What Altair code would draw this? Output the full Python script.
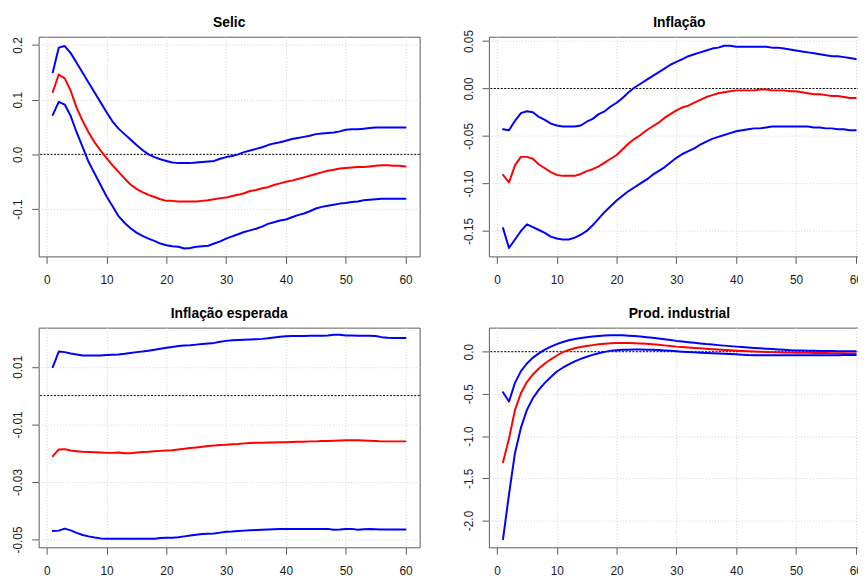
import altair as alt
import pandas as pd

horizons = list(range(1, 61))

selic_upper = [0.150, 0.195, 0.198, 0.185, 0.167, 0.149, 0.131, 0.113, 0.095, 0.077,
               0.060, 0.047, 0.037, 0.027, 0.017, 0.008, 0.000, -0.005, -0.009, -0.012,
               -0.015, -0.016, -0.016, -0.016, -0.015, -0.014, -0.013, -0.012, -0.008, -0.005,
               -0.003, 0.000, 0.004, 0.007, 0.010, 0.013, 0.017, 0.020, 0.022, 0.025,
               0.028, 0.030, 0.032, 0.034, 0.037, 0.038, 0.039, 0.040, 0.042, 0.045,
               0.046, 0.046, 0.047, 0.048, 0.049, 0.049, 0.049, 0.049, 0.049, 0.049]
selic_mean = [0.114, 0.146, 0.139, 0.116, 0.085, 0.061, 0.040, 0.022, 0.007, -0.007,
              -0.020, -0.032, -0.044, -0.055, -0.063, -0.069, -0.074, -0.078, -0.082, -0.085,
              -0.085, -0.086, -0.086, -0.086, -0.086, -0.085, -0.084, -0.082, -0.080, -0.079,
              -0.076, -0.074, -0.071, -0.067, -0.065, -0.062, -0.060, -0.056, -0.053, -0.050,
              -0.048, -0.045, -0.042, -0.039, -0.036, -0.033, -0.030, -0.028, -0.026, -0.025,
              -0.024, -0.023, -0.023, -0.022, -0.021, -0.020, -0.020, -0.021, -0.021, -0.022]
selic_lower = [0.072, 0.096, 0.091, 0.070, 0.040, 0.013, -0.014, -0.035, -0.056, -0.077,
               -0.095, -0.113, -0.125, -0.135, -0.143, -0.149, -0.154, -0.158, -0.163, -0.166,
               -0.168, -0.169, -0.172, -0.171, -0.169, -0.168, -0.167, -0.163, -0.159, -0.154,
               -0.150, -0.146, -0.142, -0.139, -0.136, -0.132, -0.127, -0.124, -0.121, -0.119,
               -0.115, -0.111, -0.108, -0.104, -0.099, -0.096, -0.094, -0.092, -0.090, -0.089,
               -0.087, -0.086, -0.084, -0.083, -0.082, -0.081, -0.081, -0.081, -0.081, -0.081]

infl_upper = [-0.043, -0.044, -0.034, -0.026, -0.024, -0.025, -0.030, -0.033, -0.037, -0.039,
              -0.040, -0.040, -0.040, -0.039, -0.035, -0.032, -0.027, -0.024, -0.019, -0.015,
              -0.010, -0.004, 0.001, 0.005, 0.009, 0.013, 0.017, 0.021, 0.025, 0.028,
              0.031, 0.034, 0.036, 0.038, 0.040, 0.042, 0.043, 0.045, 0.045, 0.044,
              0.044, 0.044, 0.044, 0.044, 0.044, 0.043, 0.043, 0.042, 0.041, 0.040,
              0.039, 0.038, 0.037, 0.036, 0.035, 0.034, 0.034, 0.033, 0.032, 0.031]
infl_mean = [-0.091, -0.099, -0.081, -0.072, -0.072, -0.074, -0.080, -0.084, -0.088, -0.091,
             -0.092, -0.092, -0.092, -0.090, -0.087, -0.085, -0.082, -0.078, -0.074, -0.070,
             -0.064, -0.058, -0.053, -0.049, -0.044, -0.040, -0.036, -0.031, -0.027, -0.023,
             -0.020, -0.018, -0.015, -0.012, -0.009, -0.007, -0.005, -0.004, -0.003, -0.002,
             -0.002, -0.002, -0.002, -0.001, -0.001, -0.002, -0.002, -0.002, -0.003, -0.003,
             -0.004, -0.005, -0.006, -0.006, -0.007, -0.008, -0.008, -0.009, -0.010, -0.010]
infl_lower = [-0.147, -0.168, -0.159, -0.150, -0.143, -0.146, -0.149, -0.152, -0.156, -0.158,
              -0.159, -0.159, -0.157, -0.154, -0.150, -0.144, -0.137, -0.130, -0.124, -0.118,
              -0.113, -0.108, -0.104, -0.100, -0.096, -0.091, -0.087, -0.083, -0.078, -0.073,
              -0.069, -0.066, -0.063, -0.059, -0.056, -0.053, -0.051, -0.049, -0.047, -0.045,
              -0.044, -0.043, -0.042, -0.042, -0.041, -0.040, -0.040, -0.040, -0.040, -0.040,
              -0.040, -0.040, -0.041, -0.041, -0.042, -0.042, -0.043, -0.043, -0.044, -0.044]

esp_upper = [0.0099, 0.0153, 0.0151, 0.0146, 0.0143, 0.0139, 0.0139, 0.0139, 0.0139, 0.0141,
             0.0142, 0.0143, 0.0145, 0.0148, 0.0151, 0.0153, 0.0156, 0.0159, 0.0163, 0.0166,
             0.0169, 0.0172, 0.0174, 0.0175, 0.0177, 0.0179, 0.0181, 0.0183, 0.0187, 0.0190,
             0.0192, 0.0193, 0.0194, 0.0195, 0.0196, 0.0197, 0.0199, 0.0202, 0.0204, 0.0206,
             0.0207, 0.0207, 0.0207, 0.0208, 0.0208, 0.0208, 0.0209, 0.0211, 0.0211, 0.0209,
             0.0209, 0.0208, 0.0208, 0.0208, 0.0207, 0.0203, 0.0201, 0.0200, 0.0200, 0.0200]
esp_mean = [-0.0210, -0.0187, -0.0186, -0.0191, -0.0193, -0.0195, -0.0196, -0.0197, -0.0198, -0.0199,
            -0.0199, -0.0198, -0.0200, -0.0200, -0.0198, -0.0196, -0.0195, -0.0193, -0.0192, -0.0191,
            -0.0190, -0.0187, -0.0185, -0.0182, -0.0180, -0.0178, -0.0175, -0.0173, -0.0172, -0.0171,
            -0.0169, -0.0168, -0.0166, -0.0165, -0.0164, -0.0164, -0.0163, -0.0163, -0.0162, -0.0162,
            -0.0161, -0.0160, -0.0160, -0.0159, -0.0159, -0.0158, -0.0158, -0.0157, -0.0156, -0.0155,
            -0.0155, -0.0155, -0.0156, -0.0157, -0.0158, -0.0159, -0.0159, -0.0159, -0.0159, -0.0159]
esp_lower = [-0.0470, -0.0469, -0.0462, -0.0468, -0.0477, -0.0484, -0.0489, -0.0493, -0.0496, -0.0497,
             -0.0497, -0.0497, -0.0497, -0.0497, -0.0497, -0.0497, -0.0497, -0.0497, -0.0495, -0.0494,
             -0.0494, -0.0492, -0.0489, -0.0486, -0.0483, -0.0481, -0.0480, -0.0479, -0.0476, -0.0473,
             -0.0472, -0.0470, -0.0469, -0.0468, -0.0467, -0.0466, -0.0465, -0.0464, -0.0463, -0.0463,
             -0.0463, -0.0463, -0.0463, -0.0463, -0.0463, -0.0463, -0.0463, -0.0466, -0.0465, -0.0463,
             -0.0463, -0.0466, -0.0464, -0.0463, -0.0464, -0.0465, -0.0465, -0.0465, -0.0465, -0.0465]

prod_upper = [-0.48, -0.59, -0.37, -0.23, -0.14, -0.07, -0.02, 0.025, 0.06, 0.09,
              0.115, 0.135, 0.15, 0.162, 0.172, 0.18, 0.187, 0.192, 0.195, 0.196,
              0.194, 0.19, 0.186, 0.18, 0.172, 0.165, 0.157, 0.148, 0.138, 0.128,
              0.12, 0.113, 0.106, 0.098, 0.09, 0.084, 0.078, 0.072, 0.066, 0.06,
              0.055, 0.05, 0.045, 0.04, 0.035, 0.031, 0.027, 0.022, 0.018, 0.015,
              0.013, 0.011, 0.01, 0.009, 0.008, 0.007, 0.006, 0.005, 0.004, 0.004]
prod_mean = [-1.31, -1.03, -0.69, -0.49, -0.36, -0.27, -0.20, -0.14, -0.09, -0.045,
             -0.005, 0.02, 0.04, 0.055, 0.068, 0.078, 0.087, 0.094, 0.099, 0.102,
             0.103, 0.102, 0.10, 0.097, 0.093, 0.088, 0.082, 0.075, 0.068, 0.06,
             0.055, 0.05, 0.045, 0.04, 0.035, 0.03, 0.025, 0.02, 0.016, 0.012,
             0.008, 0.005, 0.002, 0.0, -0.003, -0.005, -0.007, -0.009, -0.011, -0.012,
             -0.013, -0.014, -0.015, -0.015, -0.016, -0.017, -0.018, -0.019, -0.02, -0.02]
prod_lower = [-2.22, -1.69, -1.20, -0.90, -0.69, -0.55, -0.45, -0.37, -0.30, -0.235,
              -0.19, -0.15, -0.115, -0.085, -0.06, -0.038, -0.018, -0.002, 0.01, 0.018,
              0.022, 0.024, 0.025, 0.025, 0.024, 0.022, 0.019, 0.015, 0.01, 0.005,
              0.0, -0.004, -0.008, -0.012, -0.016, -0.019, -0.022, -0.025, -0.027, -0.03,
              -0.035, -0.04, -0.042, -0.042, -0.042, -0.042, -0.042, -0.042, -0.042, -0.042,
              -0.042, -0.042, -0.042, -0.042, -0.042, -0.042, -0.042, -0.038, -0.038, -0.038]

x_ticks = [0, 10, 20, 30, 40, 50, 60]

FONT = "Liberation Sans, Arial, Helvetica, sans-serif"
FRAME = "#5a5a5a"
W, H = 385, 222


def r_label(fmt, keep=None):
    core = f"(datum.value < 0 ? '-' + format(-datum.value, '{fmt}') : format(datum.value, '{fmt}'))"
    if keep is None:
        return core
    arr = "[" + ",".join(str(k) for k in keep) + "]"
    return f"indexof({arr}, round(datum.value * 100)) >= 0 ? {core} : ''"


def panel(title, lower, mean, upper, ydomain, yticks, label_expr):
    df = pd.DataFrame({
        "h": horizons * 3,
        "v": upper + mean + lower,
        "s": ["upper"] * 60 + ["mean"] * 60 + ["lower"] * 60,
    })
    xenc = alt.X("h:Q", scale=alt.Scale(domain=[-1.36, 62.36], nice=False, zero=False),
                 axis=alt.Axis(values=x_ticks, title=None, format="d", labelBaseline="alphabetic",
                               labelPadding=20, labelAngle=0, labelAlign="center"))
    yenc = alt.Y("v:Q", scale=alt.Scale(domain=ydomain, nice=False, zero=False),
                 axis=alt.Axis(values=yticks, title=None, labelExpr=label_expr, labelAngle=270,
                               labelAlign="center", labelBaseline="alphabetic", labelPadding=10))
    lines = alt.Chart(df).mark_line(strokeWidth=2, strokeCap="round", strokeJoin="round").encode(
        x=xenc, y=yenc,
        color=alt.Color("s:N", scale=alt.Scale(domain=["upper", "mean", "lower"],
                                               range=["#0000ff", "#ff0000", "#0000ff"]), legend=None),
    )
    zero = alt.Chart(pd.DataFrame({"z": [0]})).mark_rule(
        color="#000000", strokeWidth=1, strokeDash=[2, 1.5]).encode(y=alt.datum(0))
    ttl = alt.Chart(pd.DataFrame({"t": [title]})).mark_text(
        font=FONT, fontSize=14, fontWeight="bold", color="#000000",
        align="center", baseline="alphabetic").encode(
        x=alt.value(W / 2), y=alt.value(-10), text="t:N")
    return alt.layer(zero, lines, ttl).properties(width=W, height=H)


p1 = panel("Selic", selic_lower, selic_mean, selic_upper, [-0.1865, 0.2150],
           [-0.1, 0.0, 0.1, 0.2], r_label(".1f"))
p2 = panel("Inflação", infl_lower, infl_mean, infl_upper, [-0.1768, 0.0545],
           [-0.15, -0.10, -0.05, 0.0, 0.05], r_label(".2f"))
p3 = panel("Inflação esperada", esp_lower, esp_mean, esp_upper, [-0.0527, 0.0236],
           [-0.05, -0.04, -0.03, -0.02, -0.01, 0.0, 0.01, 0.02], r_label(".2f", keep=[1, -1, -3, -5]))
p4 = panel("Prod. industrial", prod_lower, prod_mean, prod_upper, [-2.318, 0.285],
           [-2.0, -1.5, -1.0, -0.5, 0.0], r_label(".1f"))

chart = alt.concat(p1, p2, p3, p4, columns=2, spacing={"row": 72, "column": 70},
                   bounds="flush").properties(
    padding={"left": 3, "top": 4, "right": -13, "bottom": 0},
    background="#ffffff",
).configure_view(
    stroke=FRAME, strokeWidth=1,
).configure_axis(
    labelFont=FONT, labelFontSize=12, labelColor="#1a1a1a",
    tickColor=FRAME, tickSize=7, tickWidth=1, domain=False,
    grid=True, gridColor="#d3d3d3", gridDash=[1, 2], gridWidth=1,
    labelOverlap=False, labelFlush=False, labelBound=False,
)

chart.save("out.html", embed_options={"renderer": "svg", "actions": False})
